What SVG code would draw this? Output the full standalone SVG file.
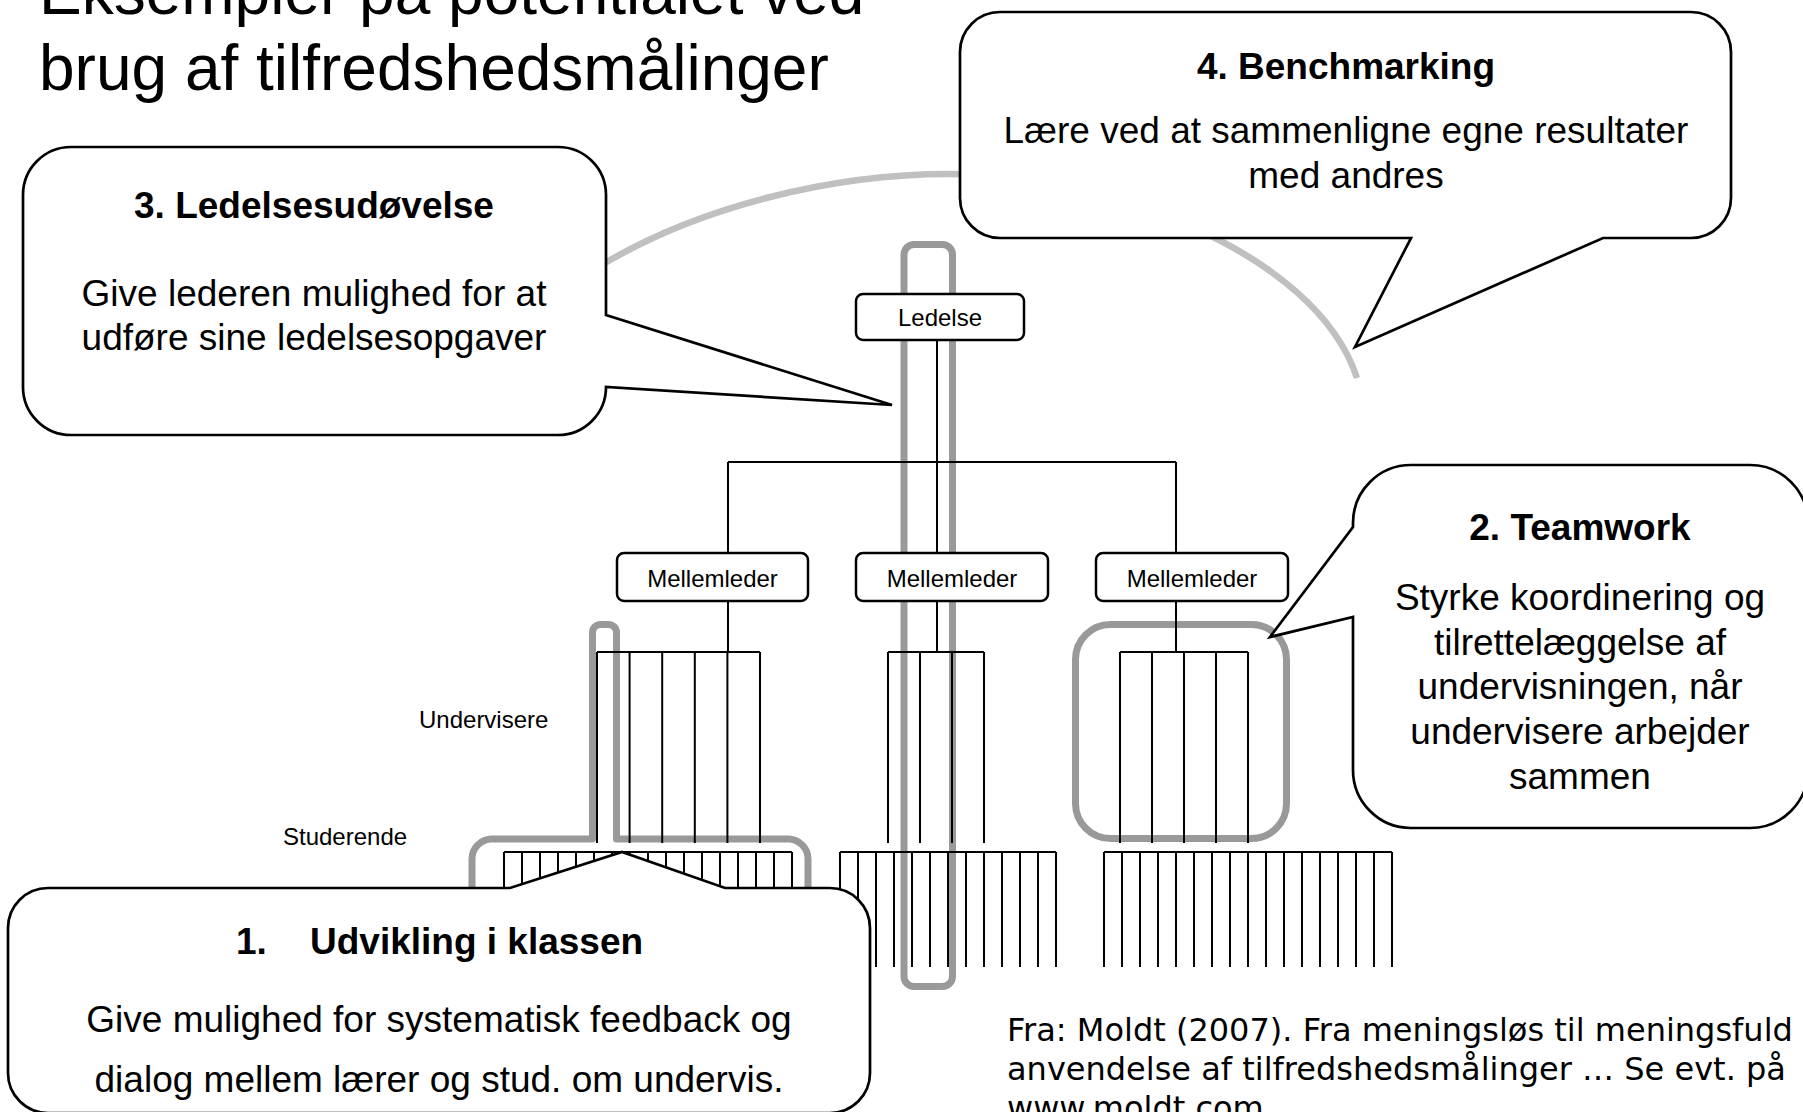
<svg xmlns="http://www.w3.org/2000/svg" width="1803" height="1112" viewBox="0 0 1803 1112">
<style>
  .t { font-family: "Liberation Sans", Arial, sans-serif; fill: #000; }
  .title { font-size: 64px; }
  .body { font-size: 37px; text-anchor: middle; }
  .lead { font-size: 37px; text-anchor: start; }
  .bold { font-weight: bold; }
  .small { font-size: 24px; }
  .mid { text-anchor: middle; }
  .cite { font-family: "DejaVu Sans", Verdana, sans-serif; font-size: 32px; fill: #000; }
  .callout { fill: #fff; stroke: #000; stroke-width: 2.7; stroke-linejoin: miter; }
  .box { fill: #fff; stroke: #000; stroke-width: 2.5; }
  .ln { fill: none; stroke: #000; stroke-width: 2; }
  .hl { fill: none; stroke: #999; stroke-width: 7; stroke-linejoin: round; }
  .arc { fill: none; stroke: #c0c0c0; stroke-width: 6.5; }
</style>
<rect width="1803" height="1112" fill="#fff"/>

<g id="title">
  <text class="t title" x="39" y="14">Eksempler på potentialet ved</text>
  <text class="t title" x="39" y="90">brug af tilfredshedsmålinger</text>
</g>

<g id="arc">
  <path class="arc" d="M605,263 C700,207 830,174 950,174 C1100,174 1315,250 1357,378"/>
</g>

<g id="highlights">
  <rect class="hl" x="904" y="244.5" width="48.5" height="742" rx="10"/>
  <path class="hl" d="M472,900 V859 A20,20 0 0 1 492,839 H592.5 V632.5 A8,8 0 0 1 600.5,624.5 H608.5 A8,8 0 0 1 616.5,632.5 V839 H788 A20,20 0 0 1 808,859 V900"/>
  <rect class="hl" x="1075.5" y="624.5" width="211" height="214" rx="35"/>
</g>

<g id="connectors">
  <path class="ln" d="M937,340 V553 M728,462 H1176 M728,462 V553 M1176,462 V553"/>
  <path class="ln" d="M728,601 V652 M937,601 V652 M1176,601 V652"/>
  <path class="ln" d="M597,652 H760 M597,652 V843 M629.6,652 V843 M662.2,652 V843 M694.8,652 V843 M727.4,652 V843 M760,652 V843"/>
  <path class="ln" d="M888,652 H984 M888,652 V843 M920,652 V843 M952,652 V843 M984,652 V843"/>
  <path class="ln" d="M1120,652 H1248 M1120,652 V843 M1152,652 V843 M1184,652 V843 M1216,652 V843 M1248,652 V843"/>
  <path class="ln" d="M504,852 H792 M504,852 v115 M522,852 v115 M540,852 v115 M558,852 v115 M576,852 v115 M594,852 v115 M612,852 v115 M630,852 v115 M648,852 v115 M666,852 v115 M684,852 v115 M702,852 v115 M720,852 v115 M738,852 v115 M756,852 v115 M774,852 v115 M792,852 v115"/>
  <path class="ln" d="M840,852 H1056 M840,852 v115 M858,852 v115 M876,852 v115 M894,852 v115 M912,852 v115 M930,852 v115 M948,852 v115 M966,852 v115 M984,852 v115 M1002,852 v115 M1020,852 v115 M1038,852 v115 M1056,852 v115"/>
  <path class="ln" d="M1104,852 H1392 M1104,852 v115 M1122,852 v115 M1140,852 v115 M1158,852 v115 M1176,852 v115 M1194,852 v115 M1212,852 v115 M1230,852 v115 M1248,852 v115 M1266,852 v115 M1284,852 v115 M1302,852 v115 M1320,852 v115 M1338,852 v115 M1356,852 v115 M1374,852 v115 M1392,852 v115"/>
</g>

<g id="ledelse">
  <rect class="box" x="856" y="294" width="168" height="46" rx="7"/>
  <text class="t small mid" x="940" y="326">Ledelse</text>
</g>
<g id="mellemleder-1">
  <rect class="box" x="617" y="553" width="191" height="48" rx="7"/>
  <text class="t small mid" x="712.5" y="587">Mellemleder</text>
</g>
<g id="mellemleder-2">
  <rect class="box" x="856" y="553" width="192" height="48" rx="7"/>
  <text class="t small mid" x="952" y="587">Mellemleder</text>
</g>
<g id="mellemleder-3">
  <rect class="box" x="1096" y="553" width="192" height="48" rx="7"/>
  <text class="t small mid" x="1192" y="587">Mellemleder</text>
</g>

<g id="label-undervisere">
  <text class="t small" x="419" y="728">Undervisere</text>
</g>
<g id="label-studerende">
  <text class="t small" x="283" y="845">Studerende</text>
</g>

<g id="callout-3">
  <path class="callout" d="M71,147 H558 A48,48 0 0 1 606,195 V315 L892,405 L606,387 A48,48 0 0 1 558,435 H71 A48,48 0 0 1 23,387 V195 A48,48 0 0 1 71,147 Z"/>
  <text class="t body bold" x="314" y="218">3. Ledelsesudøvelse</text>
  <text class="t body" x="314" y="306">Give lederen mulighed for at</text>
  <text class="t body" x="314" y="350">udføre sine ledelsesopgaver</text>
</g>

<g id="callout-4">
  <path class="callout" d="M1000,12 H1691 A40,40 0 0 1 1731,52 V198 A40,40 0 0 1 1691,238 H1603 L1355,347 L1411,238 H1000 A40,40 0 0 1 960,198 V52 A40,40 0 0 1 1000,12 Z"/>
  <text class="t body bold" x="1346" y="79">4. Benchmarking</text>
  <text class="t body" x="1346" y="143">Lære ved at sammenligne egne resultater</text>
  <text class="t body" x="1346" y="188">med andres</text>
</g>

<g id="callout-2">
  <path class="callout" d="M1411,465 H1750 A58,58 0 0 1 1808,523 V770 A58,58 0 0 1 1750,828 H1411 A58,58 0 0 1 1353,770 V617 L1270,637 L1353,527 V523 A58,58 0 0 1 1411,465 Z"/>
  <text class="t body bold" x="1580" y="540">2. Teamwork</text>
  <text class="t body" x="1580" y="610">Styrke koordinering og</text>
  <text class="t body" x="1580" y="655">tilrettelæggelse af</text>
  <text class="t body" x="1580" y="699">undervisningen, når</text>
  <text class="t body" x="1580" y="744">undervisere arbejder</text>
  <text class="t body" x="1580" y="789">sammen</text>
</g>

<g id="callout-1">
  <path class="callout" d="M48,888 H510 L622,852 L725,888 H830 A40,40 0 0 1 870,928 V1073 A40,40 0 0 1 830,1113 H48 A40,40 0 0 1 8,1073 V928 A40,40 0 0 1 48,888 Z"/>
  <text class="t lead bold" x="236" y="954">1.</text>
  <text class="t lead bold" x="310" y="954">Udvikling i klassen</text>
  <text class="t body" x="439" y="1032">Give mulighed for systematisk feedback og</text>
  <text class="t body" x="439" y="1092">dialog mellem lærer og stud. om undervis.</text>
</g>

<g id="citation">
  <text class="cite" x="1007" y="1041">Fra: Moldt (2007). Fra meningsløs til meningsfuld</text>
  <text class="cite" x="1007" y="1080">anvendelse af tilfredshedsmålinger … Se evt. på</text>
  <text class="cite" x="1007" y="1119">www.moldt.com</text>
</g>
</svg>
